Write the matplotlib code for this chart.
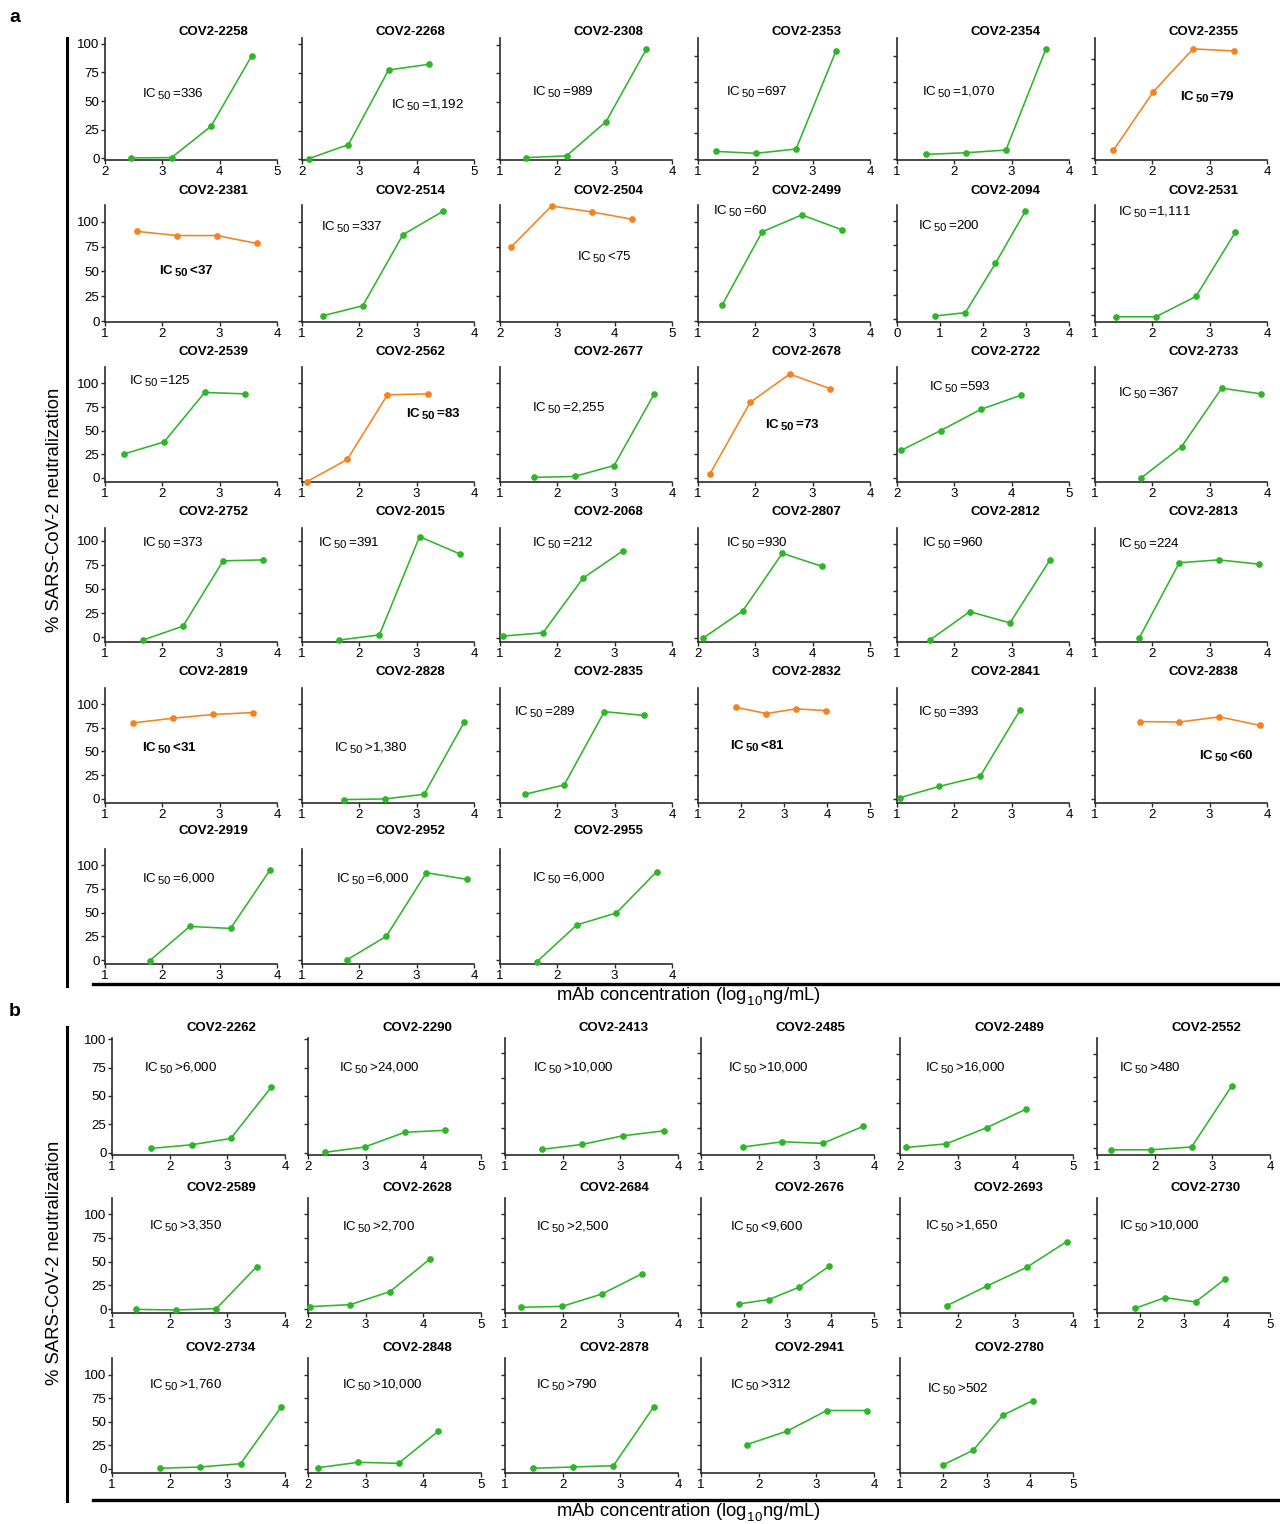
import matplotlib
matplotlib.use('Agg')
import matplotlib.pyplot as plt
from matplotlib.lines import Line2D
import matplotlib._mathtext as _mt

_mt.SHRINK_FACTOR = 0.85

plt.rcParams['font.family'] = ['Liberation Sans', 'DejaVu Sans']
plt.rcParams['mathtext.fontset'] = 'custom'
plt.rcParams['mathtext.rm'] = 'Liberation Sans'
plt.rcParams['mathtext.it'] = 'Liberation Sans:italic'
plt.rcParams['mathtext.bf'] = 'Liberation Sans:bold'
plt.rcParams['mathtext.default'] = 'regular'

# ---------------- Panel a data ----------------
names_a = ['COV2-2258', 'COV2-2268', 'COV2-2308', 'COV2-2353', 'COV2-2354', 'COV2-2355',
           'COV2-2381', 'COV2-2514', 'COV2-2504', 'COV2-2499', 'COV2-2094', 'COV2-2531',
           'COV2-2539', 'COV2-2562', 'COV2-2677', 'COV2-2678', 'COV2-2722', 'COV2-2733',
           'COV2-2752', 'COV2-2015', 'COV2-2068', 'COV2-2807', 'COV2-2812', 'COV2-2813',
           'COV2-2819', 'COV2-2828', 'COV2-2835', 'COV2-2832', 'COV2-2841', 'COV2-2838',
           'COV2-2919', 'COV2-2952', 'COV2-2955']
logconc_a = [
    [2.46, 3.16, 3.85, 4.56], [2.12, 2.81, 3.51, 4.21], [1.46, 2.16, 2.85, 3.55],
    [1.31, 2.01, 2.71, 3.41], [1.51, 2.21, 2.90, 3.60], [1.32, 2.02, 2.71, 3.42],
    [1.56, 2.26, 2.95, 3.65], [1.37, 2.06, 2.76, 3.46], [2.20, 2.90, 3.60, 4.30],
    [1.42, 2.12, 2.81, 3.51], [0.89, 1.59, 2.29, 2.98], [1.36, 2.06, 2.76, 3.45],
    [1.34, 2.03, 2.74, 3.44], [1.09, 1.79, 2.49, 3.19], [1.60, 2.30, 2.99, 3.69],
    [1.21, 1.91, 2.60, 3.30], [2.07, 2.76, 3.46, 4.16], [1.81, 2.51, 3.21, 3.90],
    [1.67, 2.36, 3.06, 3.76], [1.65, 2.35, 3.05, 3.76], [1.05, 1.75, 2.45, 3.14],
    [2.08, 2.78, 3.47, 4.17], [1.57, 2.27, 2.97, 3.67], [1.77, 2.47, 3.16, 3.86],
    [1.48, 2.18, 2.88, 3.58], [1.74, 2.44, 3.13, 3.83], [1.43, 2.12, 2.82, 3.51],
    [1.89, 2.59, 3.29, 3.98], [1.05, 1.74, 2.45, 3.15], [1.78, 2.47, 3.17, 3.87],
    [1.78, 2.48, 3.19, 3.88], [1.78, 2.47, 3.17, 3.88], [1.64, 2.34, 3.03, 3.73],
]
neut_a = [
    [0.3, 0.6, 28, 89.5], [0.6, 12.8, 77.7, 82.6], [1.5, 3, 33, 96],
    [7.4, 5.5, 9.7, 105.8], [4.5, 6.1, 8.7, 107.7], [7.7, 67, 110, 108],
    [90.3, 86.2, 86.2, 78.2], [5.4, 15.4, 87, 110.7], [75, 116, 110, 102.7],
    [16, 90, 107, 92], [3.4, 6.8, 56.8, 109.5], [-1.5, -1.5, 20, 88],
    [25.4, 38, 90.5, 89], [-4, 19.4, 88, 89], [0.4, 1.4, 13, 89],
    [4.3, 80, 110, 94.6], [29, 50, 72.5, 87.5], [0, 33, 95, 89],
    [-2.8, 11.4, 79, 80], [-3, 2.4, 104, 86], [1.8, 5.3, 63.7, 92.5],
    [-0.7, 28.6, 90, 76], [-3, 27.5, 15.4, 83], [-0.4, 80, 83, 78.5],
    [80, 85, 89, 91], [-1, -0.3, 4.6, 81], [4.6, 14.5, 92, 88],
    [96.5, 90, 95, 93], [1, 13, 23.5, 94], [81.5, 81, 86.5, 77.5],
    [-0.7, 35.4, 33.3, 95], [0, 25, 92, 85], [-2, 37, 49.6, 93],
]
potent_a = [False, False, False, False, False, True,
            True, False, True, False, False, False,
            False, True, False, True, False, False,
            False, False, False, False, False, False,
            True, False, False, True, False, True,
            False, False, False]
bold_label_a = [False, False, False, False, False, True,
                True, False, False, False, False, False,
                False, True, False, True, False, False,
                False, False, False, False, False, False,
                True, False, False, True, False, True,
                False, False, False]
ic50_a = ['=336', '=1,192', '=989', '=697', '=1,070', '=79',
          '<37', '=337', '<75', '=60', '=200', '=1,111',
          '=125', '=83', '=2,255', '=73', '=593', '=367',
          '=373', '=391', '=212', '=930', '=960', '=224',
          '<31', '>1,380', '=289', '<81', '=393', '<60',
          '=6,000', '=6,000', '=6,000']
xrange_a = [(2, 5), (2, 5), (1, 4), (1, 4), (1, 4), (1, 4),
            (1, 4), (1, 4), (2, 5), (1, 4), (0, 4), (1, 4),
            (1, 4), (1, 4), (1, 4), (1, 4), (2, 5), (1, 4),
            (1, 4), (1, 4), (1, 4), (2, 5), (1, 4), (1, 4),
            (1, 4), (1, 4), (1, 4), (1, 5), (1, 4), (1, 4),
            (1, 4), (1, 4), (1, 4)]
yrange_a = [(-1.5, 105), (-0.6, 105.5), (-0.6, 106), (-1, 118), (-1, 118), (-2, 121),
            (-1, 117), (-1, 117), (-1, 117), (-1, 117), (-2.7, 116), (-7, 116.6),
            (-4.5, 117.5), (-4.5, 117.5), (-4.5, 117.5), (-4.5, 117.5), (-4.5, 117.5), (-4.5, 117.5),
            (-5, 113), (-5, 113), (-4.5, 117), (-4.5, 117), (-5, 117), (-4.5, 117),
            (-4.6, 117), (-4.6, 117), (-4.6, 117), (-4.6, 117), (-4.6, 117), (-4.6, 117),
            (-4.2, 117), (-4.2, 117), (-4.2, 117)]
labelpos_a = [(2.65, 56), (3.56, 47), (1.56, 58), (1.49, 64.5), (1.44, 65), (2.48, 60.6),
              (1.94, 49.7), (1.33, 94), (3.34, 64), (1.27, 110), (0.49, 94.6), (1.40, 109),
              (1.42, 101.8), (2.81, 67), (1.56, 73), (2.17, 56), (2.56, 96), (1.40, 89.5),
              (1.65, 97), (1.28, 97), (1.56, 101), (2.49, 101), (1.44, 100), (1.40, 100),
              (1.65, 53), (1.55, 53), (1.25, 91.5), (1.74, 55), (1.37, 91), (2.82, 44.5),
              (1.65, 85), (1.59, 85), (1.56, 86)]

# ---------------- Panel b data ----------------
names_b = ['COV2-2262', 'COV2-2290', 'COV2-2413', 'COV2-2485', 'COV2-2489', 'COV2-2552',
           'COV2-2589', 'COV2-2628', 'COV2-2684', 'COV2-2676', 'COV2-2693', 'COV2-2730',
           'COV2-2734', 'COV2-2848', 'COV2-2878', 'COV2-2941', 'COV2-2780']
logconc_b = [
    [1.68, 2.38, 3.06, 3.76], [2.29, 2.98, 3.68, 4.38], [1.65, 2.34, 3.04, 3.75],
    [1.72, 2.41, 3.11, 3.81], [2.11, 2.80, 3.50, 4.19], [1.24, 1.94, 2.64, 3.34],
    [1.41, 2.11, 2.81, 3.51], [2.03, 2.73, 3.42, 4.12], [1.28, 1.99, 2.68, 3.38],
    [1.87, 2.57, 3.27, 3.96], [1.81, 2.50, 3.20, 3.89], [1.88, 2.57, 3.28, 3.97],
    [1.83, 2.53, 3.23, 3.93], [2.17, 2.87, 3.57, 4.26], [1.48, 2.18, 2.88, 3.58],
    [1.79, 2.49, 3.18, 3.88], [1.99, 2.69, 3.38, 4.07],
]
neut_b = [
    [3.8, 7, 12.6, 57.6], [0.3, 5, 18, 19.7], [3.4, 8.4, 17, 22],
    [5.7, 11, 9.4, 26.5], [5.4, 9, 25.4, 44.4], [-2, -2, 1, 66],
    [-0.4, -1, 0.4, 44.7], [2.5, 4.6, 18.3, 53], [1.8, 2.8, 15.8, 37.3],
    [5.3, 10, 23, 45], [3.5, 24, 44, 71], [0.7, 12, 7.4, 32],
    [0.4, 1.8, 5.3, 65.5], [1, 6.8, 5.7, 40], [0.4, 1.8, 3.2, 66],
    [25.6, 40, 62, 62], [4, 19.6, 57, 72.6],
]
ic50_b = ['>6,000', '>24,000', '>10,000', '>10,000', '>16,000', '>480',
          '>3,350', '>2,700', '>2,500', '<9,600', '>1,650', '>10,000',
          '>1,760', '>10,000', '>790', '>312', '>502']
xrange_b = [(1, 4), (2, 5), (1, 4), (1, 4), (2, 5), (1, 4),
            (1, 4), (2, 5), (1, 4), (1, 5), (1, 4), (1, 5),
            (1, 4), (2, 5), (1, 4), (1, 4), (1, 5)]
yrange_b = [(-2, 101), (-2, 101), (-2.3, 115.5), (-2.3, 115.5), (-2.3, 116.5), (-7.5, 116.5),
            (-4.2, 117), (-4.2, 117), (-4.2, 117), (-4.2, 117), (-4.2, 117), (-4.2, 117),
            (-4.6, 118), (-4.6, 118), (-4.6, 118), (-4.6, 118), (-4.6, 118)]
labelpos_b = [(1.56, 74), (2.54, 74), (1.49, 85), (1.47, 85), (2.43, 86), (1.38, 84),
              (1.64, 87), (2.59, 86), (1.53, 86), (1.66, 86), (1.44, 87), (1.50, 87),
              (1.64, 88.6), (2.59, 88.6), (1.53, 88.6), (1.50, 88.6), (1.62, 85)]

yticks = [0, 25, 50, 75, 100]

GREEN = '#2fb52a'
ORANGE = '#f5821f'

W, H = 1280, 1524
fig = plt.figure(figsize=(W / 100, H / 100), dpi=100)

# layout (pixels)
cols_a = [105, 302, 500, 698, 897, 1095]
width_a = 172
rows_a = [(38, 160), (205, 322), (367, 482), (528, 642), (688, 803), (849, 964)]
title_y_a = [32, 191, 352, 512, 672, 831]
cols_b = [112, 308, 505, 701, 900, 1097]
width_b = 173
rows_b = [(1038, 1155), (1198, 1313), (1358, 1473)]
title_y_b = [1028, 1188, 1348]


def fx(x):
    return x / W


def fy(y):
    return 1 - y / H


def draw_panel(i, names, xs, ys, potent, boldlab, ic50, xr, yr, lpos, cols, width, rows,
               title_ys):
    r, c = divmod(i, 6)
    left = cols[c]
    top, bottom = rows[r]
    ax = fig.add_axes([fx(left), fy(bottom), width / W, (bottom - top) / H])
    color = ORANGE if potent[i] else GREEN
    ax.plot(xs[i], ys[i], '-o', color=color, lw=1.15, ms=3.8, clip_on=False, zorder=3)
    ax.set_xlim(*xr[i])
    ax.set_ylim(*yr[i])
    ax.set_xticks(list(range(xr[i][0], xr[i][1] + 1)))
    ax.set_yticks(yticks)
    for s in ['top', 'right']:
        ax.spines[s].set_visible(False)
    for s in ['left', 'bottom']:
        ax.spines[s].set_linewidth(1.2)
        ax.spines[s].set_color('#2a2a2a')
    ax.tick_params(direction='out', length=3, width=1, labelsize=9.6, pad=1.0,
                   colors='#2a2a2a', labelcolor='black')
    ax.tick_params(axis='y', labelleft=(c == 0))
    ax.patch.set_alpha(0)
    fig.text(fx(left + 0.63 * width), fy(title_ys[r]), names[i], ha='center', va='center',
             fontsize=9.5, fontweight='bold')
    ax.text(lpos[i][0], lpos[i][1], r'IC$\,_{50}\,$' + ic50[i], ha='left', va='center',
            fontsize=9.6, fontweight='bold' if boldlab[i] else 'normal')
    return ax


for i in range(len(names_a)):
    draw_panel(i, names_a, logconc_a, neut_a, potent_a, bold_label_a, ic50_a, xrange_a,
               yrange_a, labelpos_a, cols_a, width_a, rows_a, title_y_a)

potent_b = [False] * len(names_b)
for i in range(len(names_b)):
    draw_panel(i, names_b, logconc_b, neut_b, potent_b, potent_b, ic50_b, xrange_b, yrange_b,
               labelpos_b, cols_b, width_b, rows_b, title_y_b)

# frame lines and shared labels
fig.add_artist(Line2D([fx(67), fx(67)], [fy(38), fy(986)], color='black', lw=2.2,
                      transform=fig.transFigure))
fig.add_artist(Line2D([fx(93), fx(1280)], [fy(984), fy(984)], color='black', lw=2.4,
                      transform=fig.transFigure))
fig.add_artist(Line2D([fx(67), fx(67)], [fy(1027), fy(1501)], color='black', lw=2.2,
                      transform=fig.transFigure))
fig.add_artist(Line2D([fx(93), fx(1280)], [fy(1500), fy(1500)], color='black', lw=2.4,
                      transform=fig.transFigure))

ylab = '% SARS-CoV-2 neutralization'
xlab = 'mAb concentration (log$_{_{10}}$ng/mL)'
fig.text(fx(55), fy(510), ylab, rotation=90, ha='center', va='center', fontsize=13.3)
fig.text(fx(55), fy(1263), ylab, rotation=90, ha='center', va='center', fontsize=13.3)
fig.text(fx(688), fy(997), xlab, ha='center', va='center', fontsize=13.3)
fig.text(fx(688), fy(1513), xlab, ha='center', va='center', fontsize=13.3)

fig.text(fx(15), fy(18), 'a', ha='center', va='center', fontsize=14, fontweight='bold')
fig.text(fx(15), fy(1012), 'b', ha='center', va='center', fontsize=14, fontweight='bold')

fig.savefig('out.png', dpi=100)
